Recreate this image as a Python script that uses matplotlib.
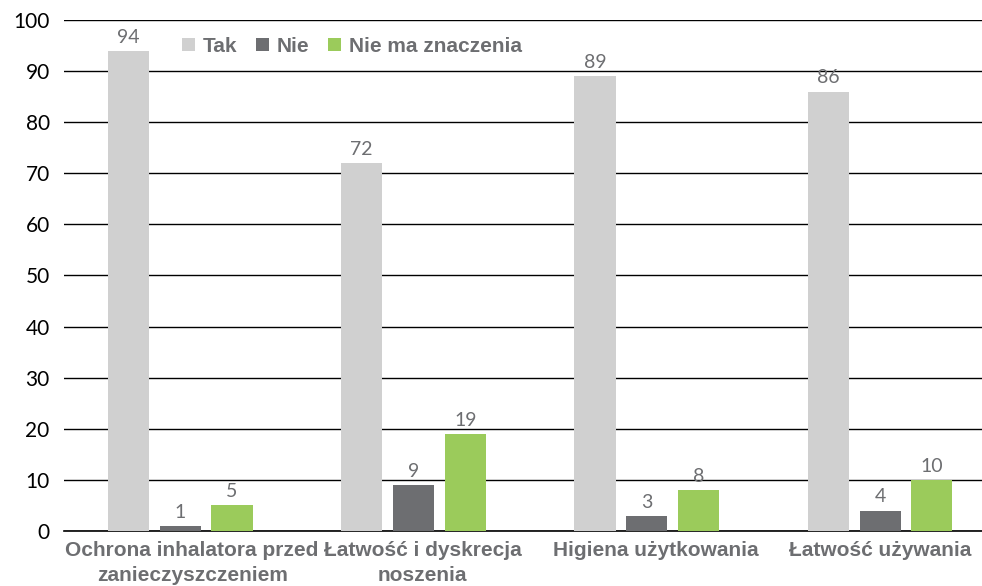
import numpy as np
import matplotlib.pyplot as plt
import matplotlib.transforms as mtransforms

categories = ["Ochrona inhalatora przed\nzanieczyszczeniem", "Łatwość i dyskrecja\nnoszenia",
              "Higiena użytkowania", "Łatwość używania"]
series_names = ["Tak", "Nie", "Nie ma znaczenia"]
tak = [94, 72, 89, 86]
nie = [1, 9, 3, 4]
bez_znaczenia = [5, 19, 8, 10]
colors = ["#D0D0D0", "#6D6E71", "#9BCB5B"]

plt.rcParams['font.family'] = ['Liberation Sans', 'DejaVu Sans']

fig = plt.figure(figsize=(9.82, 5.86), dpi=100)
ax = fig.add_axes([0.0647, 0.0939, 0.9503, 0.872])

x = np.arange(len(categories))
width = 0.176
offset = 0.222
for i, (vals, name) in enumerate(zip([tak, nie, bez_znaczenia], series_names)):
    pos = x + (i - 1) * offset
    ax.bar(pos, vals, width, color=colors[i], label=name, zorder=3)
    for p, v in zip(pos, vals):
        ax.text(p, v + 1.0, str(v), ha='center', va='bottom', fontsize=14,
                color='#6D6E71', family='Lato')

ax.set_xlim(-0.5, len(categories) - 0.5)
ax.set_ylim(0, 100)
ax.set_yticks(range(0, 101, 10))
ax.yaxis.grid(True, color='black', linewidth=1, zorder=0)
ax.tick_params(axis='y', length=0, labelsize=15, pad=10)
for t in ax.get_yticklabels():
    t.set_family('Lato')
ax.tick_params(axis='x', length=0, pad=7)
ax.set_xticks(x)
ax.set_xticklabels(categories, fontsize=15, fontweight='bold', color='#6D6E71', linespacing=1.45)
# labels sit slightly right of the group centres, last one is held by the edge
shifts = [12, 9, 9, 0]
for t, dx in zip(ax.get_xticklabels(), shifts):
    t.set_transform(t.get_transform() + mtransforms.ScaledTranslation(dx / 100, 0, fig.dpi_scale_trans))
for s in ['left', 'right', 'top']:
    ax.spines[s].set_visible(False)
ax.spines['bottom'].set_linewidth(1.2)

leg = ax.legend(loc='upper left', bbox_to_anchor=(0.127, 0.967), ncol=3, frameon=False,
                borderpad=0, borderaxespad=0,
                handlelength=0.6, handleheight=0.6, handletextpad=0.4, columnspacing=0.9,
                prop={'weight': 'bold', 'size': 15})
for t in leg.get_texts():
    t.set_color('#6D6E71')

fig.savefig('out.png', dpi=100)
